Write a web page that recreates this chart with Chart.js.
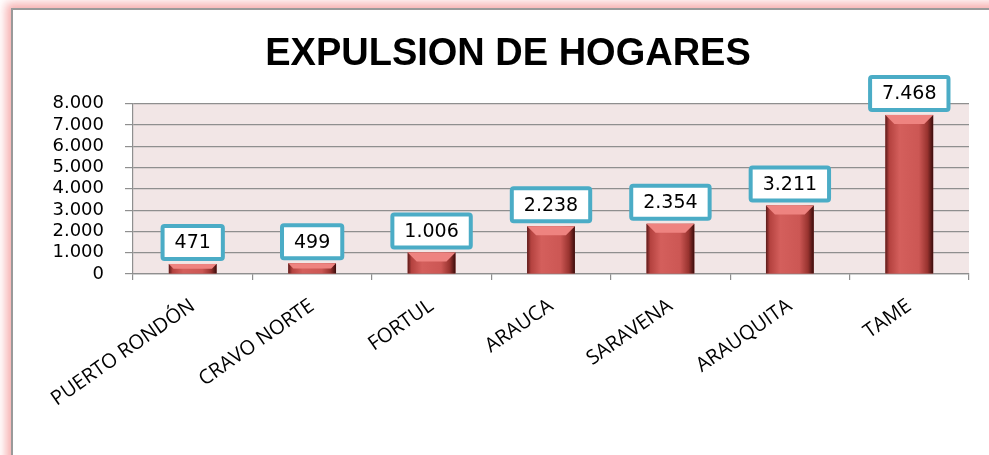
<!DOCTYPE html>
<html>
<head>
<meta charset="utf-8">
<script src="https://cdn.jsdelivr.net/npm/chart.js@4.4.1/dist/chart.umd.min.js"></script>
<style>
    body { margin: 0; background: #ffffff; overflow: hidden; }
    #frame {
        position: absolute;
        left: 11px;
        top: 8px;
        width: 1000px;
        height: 470px;
        border-left: 2px solid #9a9a9a;
        border-top: 2px solid #9a9a9a;
        box-shadow: 0 0 9px 5px rgba(244, 150, 150, 0.75);
        background: #ffffff;
    }
    #chart { position: absolute; left: 0; top: 0; }
</style>
</head>
<body>
<div id="frame">
    <canvas id="chart" width="976" height="445"></canvas>
</div>
<script>
var municipios = ["PUERTO RONDÓN", "CRAVO NORTE", "FORTUL", "ARAUCA", "SARAVENA", "ARAUQUITA", "TAME"];
var hogares = [471, 499, 1006, 2238, 2354, 3211, 7468];
var yTicks = [0, 1000, 2000, 3000, 4000, 5000, 6000, 7000, 8000];
var titulo = "EXPULSION DE HOGARES";

function miles(v) {
    return String(v).replace(/\B(?=(\d{3})+(?!\d))/g, ".");
}

// fondo rosado del area de trazado
var fondoPlugin = {
    id: 'fondo',
    beforeDraw: function (chart) {
        var a = chart.chartArea;
        var ctx = chart.ctx;
        ctx.save();
        ctx.fillStyle = "#f2e6e6";
        ctx.fillRect(a.left, a.top, a.right - a.left, a.bottom - a.top);
        ctx.restore();
    }
};

// sombreado de las barras y etiquetas en caja
var barrasPlugin = {
    id: 'barras',
    afterDatasetsDraw: function (chart) {
        var ctx = chart.ctx;
        var meta = chart.getDatasetMeta(0);
        ctx.save();
        meta.data.forEach(function (el, i) {
            var w = el.width;
            var left = el.x - w / 2;
            var top = el.y;
            var h = el.base - el.y;

            var g = ctx.createLinearGradient(left, 0, left + w, 0);
            g.addColorStop(0, "#5a1a19");
            g.addColorStop(0.08, "#b4423f");
            g.addColorStop(0.3, "#d45f5c");
            g.addColorStop(0.7, "#cc5754");
            g.addColorStop(0.88, "#98332f");
            g.addColorStop(1, "#3a0d0c");
            ctx.fillStyle = g;
            ctx.fillRect(left, top, w, h);

            var b = Math.min(9, h / 2);
            ctx.fillStyle = "#ee8380";
            ctx.beginPath();
            ctx.moveTo(left, top);
            ctx.lineTo(left + w, top);
            ctx.lineTo(left + w - b, top + b);
            ctx.lineTo(left + b, top + b);
            ctx.closePath();
            ctx.fill();

            // etiqueta
            var txt = miles(hogares[i]);
            ctx.font = "19px 'DejaVu Sans'";
            var tw = ctx.measureText(txt).width;
            var bw = tw + 28;
            var bh = 37;
            var bx = el.x - bw / 2;
            var by = top - 3 - bh;
            ctx.lineWidth = 4;
            ctx.strokeStyle = "#4bacc6";
            ctx.fillStyle = "#ffffff";
            ctx.beginPath();
            ctx.roundRect(bx + 2, by + 2, bw - 4, bh - 4, 2);
            ctx.fill();
            ctx.stroke();
            ctx.fillStyle = "#000000";
            ctx.textAlign = "center";
            ctx.textBaseline = "middle";
            ctx.fillText(txt, el.x, by + bh / 2 + 1);
        });
        ctx.restore();
    }
};

var ctx1 = document.getElementById("chart").getContext("2d");
window.myBar = new Chart(ctx1,
    {
        type: 'bar',
        data: {
            labels: municipios,
            datasets: [{
                label: titulo,
                data: hogares,
                backgroundColor: "#c0504d",
                borderWidth: 0,
                barPercentage: 0.4,
                categoryPercentage: 1.0
            }]
        },
        options:
            {
                responsive: false,
                animation: false,
                layout: {
                    padding: { left: 34, right: 20, top: 22, bottom: 0 }
                },
                plugins: {
                    legend: { display: false },
                    tooltip: { enabled: false },
                    title: {
                        display: true,
                        text: titulo,
                        color: "#000000",
                        font: { family: "'Liberation Sans', Arial, sans-serif", size: 38, weight: 'bold' },
                        padding: { top: 0, bottom: 26 }
                    }
                },
                scales: {
                    x: {
                        offset: true,
                        grid: {
                            offset: true,
                            drawOnChartArea: false,
                            drawTicks: true,
                            tickLength: 6,
                            color: "#8f8f8f",
                            lineWidth: 1.2
                        },
                        border: { display: true, color: "#8f8f8f", width: 1.2 },
                        ticks: {
                            color: "#000000",
                            autoSkip: false,
                            minRotation: 35,
                            maxRotation: 35,
                            padding: 14,
                            font: { family: "'Open Sans', 'DejaVu Sans', sans-serif", size: 20 }
                        },
                        afterFit: function (scale) { scale.height = 181; }
                    },
                    y: {
                        min: 0,
                        max: 8000,
                        afterBuildTicks: function (scale) {
                            scale.ticks = yTicks.map(function (v) { return { value: v }; });
                        },
                        grid: {
                            color: "#8f8f8f",
                            lineWidth: 1.2,
                            drawTicks: true,
                            tickLength: 8
                        },
                        border: { display: true, color: "#8f8f8f", width: 1.2 },
                        ticks: {
                            autoSkip: false,
                            color: "#000000",
                            padding: 21,
                            font: { family: "'DejaVu Sans', sans-serif", size: 18 },
                            callback: function (v) { return miles(v); }
                        },
                        afterFit: function (scale) { scale.width = 86; }
                    }
                }
            },
        plugins: [fondoPlugin, barrasPlugin]
    });
</script>
</body>
</html>
